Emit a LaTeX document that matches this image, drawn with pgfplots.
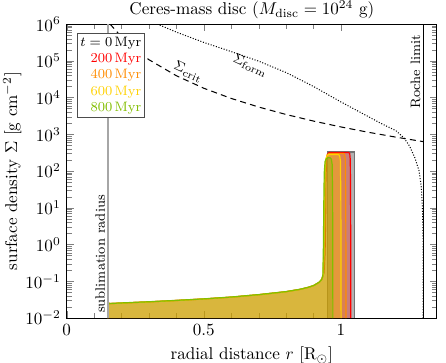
\documentclass[border=0pt]{standalone}
\usepackage{pgfplots}
\pgfplotsset{compat=1.18}
\definecolor{cred}{RGB}{255,0,0}
\definecolor{corange}{RGB}{255,140,0}
\definecolor{cyellow}{RGB}{255,210,0}
\definecolor{cgreen}{RGB}{130,190,0}
\begin{document}
\begin{tikzpicture}
\begin{axis}[
  name=ax,
  scale only axis, width=217pt, height=172.3pt,
  xmin=0, xmax=1.35, ymin=1e-2, ymax=1e6, ymode=log,
  xtick={0,0.5,1}, minor x tick num=4,
  ytick={1e-2,1e-1,1,1e1,1e2,1e3,1e4,1e5,1e6},
  title={Ceres-mass disc ($M_{\rm disc}=10^{24}$ g)},
  title style={yshift=-6.5pt},
  xlabel={radial distance $r$ [R$_\odot$]},
  ylabel={surface density $\Sigma$ [g cm$^{-2}$]},
  xlabel near ticks, ylabel near ticks,
  ylabel style={yshift=-4.5pt},
  tick align=inside,
  axis line style={line width=0.6pt},
]
% initial ring
\addplot[draw=black!55, line width=0.8pt, fill=black!30] coordinates {
  (0.95,0.01) (0.95,330) (1.05,330) (1.05,0.01)};
% 200 Myr
\addplot[cred, line width=0.7pt, fill=cred, fill opacity=0.3] coordinates {
  (0.15,0.01) (0.15,0.0245) (0.2,0.0255) (0.3,0.0275) (0.4,0.030) (0.5,0.033)
  (0.6,0.037) (0.7,0.043) (0.8,0.052) (0.85,0.060) (0.88,0.068) (0.9,0.076)
  (0.92,0.093) (0.93,0.112) (0.938,0.17) (0.942,0.6) (0.944,5) (0.945,50)
  (0.947,200) (0.951,290) (0.957,318) (1.028,318) (1.032,300) (1.034,200)
  (1.035,20) (1.0355,1) (1.036,0.01)};
% 400 Myr
\addplot[corange, line width=0.7pt, fill=corange, fill opacity=0.3] coordinates {
  (0.15,0.01) (0.15,0.032) (0.152,0.026) (0.16,0.0248) (0.2,0.0255) (0.3,0.0275)
  (0.4,0.030) (0.5,0.033) (0.6,0.037) (0.7,0.043) (0.8,0.052) (0.85,0.060)
  (0.88,0.068) (0.9,0.076) (0.92,0.093) (0.93,0.112) (0.936,0.15) (0.939,0.6)
  (0.941,5) (0.9425,60) (0.945,200) (0.95,280) (0.958,303) (1.008,303)
  (1.013,285) (1.016,200) (1.0175,20) (1.018,1) (1.0185,0.01)};
% 600 Myr
\addplot[cyellow, line width=0.7pt, fill=cyellow, fill opacity=0.3] coordinates {
  (0.15,0.01) (0.15,0.0245) (0.2,0.0255) (0.3,0.0275) (0.4,0.030) (0.5,0.033)
  (0.6,0.037) (0.7,0.043) (0.8,0.052) (0.85,0.060) (0.88,0.068) (0.9,0.076)
  (0.92,0.093) (0.93,0.112) (0.935,0.15) (0.9375,0.8) (0.939,8) (0.9405,70)
  (0.944,200) (0.949,260) (0.956,283) (0.99,283) (0.995,265) (0.998,190)
  (0.9995,20) (1.0,1) (1.0005,0.01)};
% 800 Myr
\addplot[cgreen, line width=0.7pt, fill=cgreen, fill opacity=0.3] coordinates {
  (0.15,0.01) (0.15,0.0248) (0.2,0.0258) (0.3,0.0278) (0.4,0.0303) (0.5,0.0333)
  (0.6,0.0374) (0.7,0.0435) (0.8,0.0525) (0.85,0.0606) (0.88,0.0687) (0.9,0.0768)
  (0.92,0.094) (0.93,0.113) (0.934,0.15) (0.936,1) (0.9375,15) (0.939,90)
  (0.942,180) (0.947,220) (0.954,232) (0.960,230) (0.965,210) (0.968,150)
  (0.9695,20) (0.970,1) (0.9705,0.01)};
% Sigma_form
\addplot[black, line width=0.6pt, densely dotted] coordinates {
  (0.33,1e6) (0.40,6.03e5) (0.50,3.16e5) (0.60,1.78e5) (0.70,9.77e4) (0.80,4.79e4)
  (0.90,2.0e4) (1.00,7.59e3) (1.10,3.02e3) (1.15,1.91e3) (1.20,1.26e3) (1.23,794)
  (1.25,479) (1.27,224) (1.285,100) (1.293,35.5) (1.297,10) (1.299,2)
  (1.2998,0.32) (1.3,0.01)};
% Sigma_crit
\addplot[black, line width=0.6pt, dash pattern=on 3.5pt off 2.5pt] coordinates {
  (0.158,1e6) (0.2,4.44e5) (0.25,2.03e5) (0.3,1.07e5) (0.4,3.92e4) (0.5,1.79e4)
  (0.6,9.46e3) (0.7,5.52e3) (0.8,3.46e3) (0.9,2.29e3) (1.0,1585) (1.1,1135)
  (1.2,838) (1.3,632)};
% sublimation radius and Roche limit
\addplot[black!35, line width=1pt] coordinates {(0.15,1e-2) (0.15,1e6)};
\addplot[black, line width=0.5pt] coordinates {(1.3,1e-2) (1.3,1e6)};
\node[rotate=90, anchor=south west, font=\footnotesize, inner sep=1.5pt] at (axis cs:0.15,1.15e-2) {sublimation radius};
\node[rotate=90, anchor=south east, font=\footnotesize, inner sep=1.5pt] at (axis cs:1.3,6e5) {Roche limit};
\node[rotate=-25, font=\footnotesize] at (axis cs:0.67,7.4e4) {$\Sigma_{\rm form}$};
\node[rotate=-25, font=\footnotesize] at (axis cs:0.444,5.0e4) {$\Sigma_{\rm crit}$};
\node[draw=black!70, fill=white, anchor=north west, font=\footnotesize, align=right, inner sep=2pt]
  at (rel axis cs:0.027,0.968) {$t=0\,$Myr\\ \textcolor{cred}{200\,Myr}\\ \textcolor{corange}{400\,Myr}\\ \textcolor{cyellow}{600\,Myr}\\ \textcolor{cgreen}{800\,Myr}};
\end{axis}
\pgfresetboundingbox
\path[use as bounding box] ([xshift=-39.1pt,yshift=-25.8pt]ax.south west) rectangle ([xshift=5.3pt,yshift=14.1pt]ax.north east);
\end{tikzpicture}
\end{document}
